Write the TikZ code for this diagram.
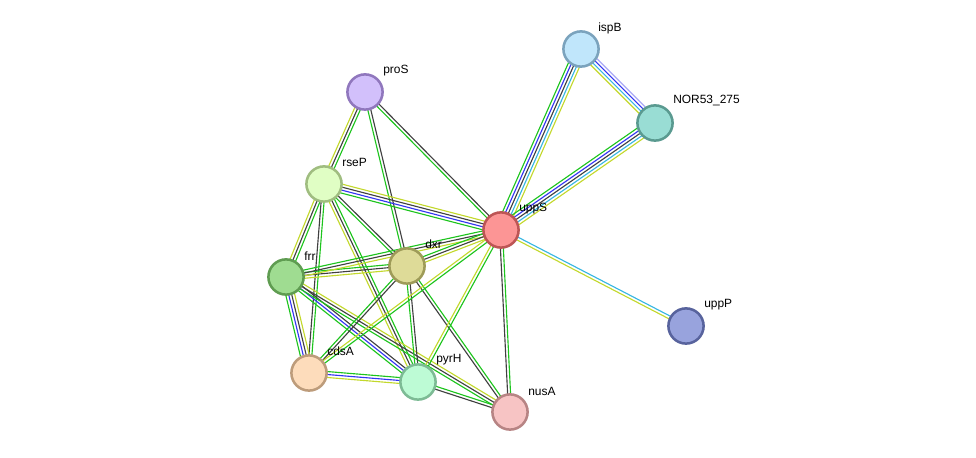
\documentclass[tikz,border=0pt]{standalone}
\usepackage{fontspec}
\setmainfont{Liberation Sans}
\usetikzlibrary{calc,backgrounds}

\definecolor{cNb}{HTML}{1DC41D}
\definecolor{cTm}{HTML}{C3D82C}
\definecolor{cCo}{HTML}{404040}
\definecolor{cCc}{HTML}{3434F2}
\definecolor{cDb}{HTML}{36B6E2}
\definecolor{cEx}{HTML}{AAAAF5}

\tikzset{
  prot/.style={circle, minimum size=0.88cm, line width=1.8pt, inner sep=0pt},
  lbl/.style={anchor=west, font=\fontsize{8.5}{10}\selectfont, inner sep=0pt},
  edge/.style={line width=0.8pt}
}

% parallel coloured lines between two proteins
\newcommand{\linkset}[3]{%
  \foreach \c [count=\i] in {#3} {\xdef\nlines{\i}}
  \foreach \c [count=\i] in {#3} {
    \pgfmathsetmacro{\off}{(\i-(\nlines+1)/2)*2.1}
    \draw[\c, edge] ($(#1)!\off pt!90:(#2)$) -- ($(#2)!\off pt!-90:(#1)$);
  }}

\begin{document}
\begin{tikzpicture}[x=0.025cm, y=-0.025cm]
  \useasboundingbox (0,0) rectangle (976,458);

  \node[prot, fill={rgb,255:red,192;green,230;blue,251}, draw={rgb,255:red,123;green,163;blue,189}] (ispB) at (581,49) {};
  \node[prot, fill={rgb,255:red,153;green,221;blue,212}, draw={rgb,255:red,90;green,154;blue,144}] (nor) at (655,123) {};
  \node[prot, fill={rgb,255:red,210;green,192;blue,251}, draw={rgb,255:red,144;green,119;blue,189}] (proS) at (365,92) {};
  \node[prot, fill={rgb,255:red,224;green,254;blue,196}, draw={rgb,255:red,160;green,189;blue,128}] (rseP) at (324,184) {};
  \node[prot, fill={rgb,255:red,252;green,149;blue,149}, draw={rgb,255:red,189;green,85;blue,85}] (uppS) at (501,230) {};
  \node[prot, fill={rgb,255:red,222;green,219;blue,152}, draw={rgb,255:red,158;green,155;blue,88}] (dxr) at (407,266) {};
  \node[prot, fill={rgb,255:red,159;green,220;blue,145}, draw={rgb,255:red,95;green,156;blue,81}] (frr) at (286,277) {};
  \node[prot, fill={rgb,255:red,152;green,163;blue,221}, draw={rgb,255:red,88;green,99;blue,157}] (uppP) at (686,326) {};
  \node[prot, fill={rgb,255:red,253;green,220;blue,187}, draw={rgb,255:red,189;green,156;blue,123}] (cdsA) at (309,373) {};
  \node[prot, fill={rgb,255:red,189;green,251;blue,213}, draw={rgb,255:red,125;green,187;blue,149}] (pyrH) at (418,382) {};
  \node[prot, fill={rgb,255:red,247;green,196;blue,196}, draw={rgb,255:red,183;green,132;blue,132}] (nusA) at (510,412) {};

  \node[lbl] (ispBtxt) at ($(ispB)+(17,-21)$) {ispB};
  \node[lbl] (nortxt) at ($(nor)+(18,-22)$) {NOR53\_275};
  \node[lbl] (proStxt) at ($(proS)+(18,-21)$) {proS};
  \node[lbl] (rsePtxt) at ($(rseP)+(18,-22)$) {rseP};
  \node[lbl] (uppStxt) at ($(uppS)+(18,-21)$) {uppS};
  \node[lbl] (dxrtxt) at ($(dxr)+(18,-22)$) {dxr};
  \node[lbl] (frrtxt) at ($(frr)+(18,-21)$) {frr};
  \node[lbl] (uppPtxt) at ($(uppP)+(18,-21)$) {uppP};
  \node[lbl] (cdsAtxt) at ($(cdsA)+(18,-22)$) {cdsA};
  \node[lbl] (pyrHtxt) at ($(pyrH)+(18,-22)$) {pyrH};
  \node[lbl] (nusAtxt) at ($(nusA)+(18,-21)$) {nusA};

  \begin{pgfonlayer}{background}
    \linkset{uppS}{ispB}{cTm,cDb,cCo,cCc,cNb}
    \linkset{ispB}{nor}{cTm,cDb,cCc,cEx}
    \linkset{uppS}{nor}{cTm,cDb,cCo,cCc,cNb}
    \linkset{uppS}{uppP}{cTm,cDb}
    \linkset{proS}{rseP}{cTm,cCo,cNb}
    \linkset{proS}{dxr}{cNb,cCo}
    \linkset{proS}{uppS}{cNb,cCo}
    \linkset{rseP}{uppS}{cNb,cCc,cCo,cTm}
    \linkset{rseP}{dxr}{cNb,cCo}
    \linkset{rseP}{frr}{cTm,cCo,cNb}
    \linkset{rseP}{cdsA}{cCo,cNb}
    \linkset{rseP}{pyrH}{cTm,cCo,cNb}
    \linkset{frr}{dxr}{cTm,cCo,cNb}
    \linkset{frr}{uppS}{cTm,cCo,cNb}
    \linkset{frr}{cdsA}{cNb,cCc,cCo,cTm}
    \linkset{frr}{pyrH}{cNb,cCc,cCo}
    \linkset{frr}{nusA}{cNb,cCo,cTm}
    \linkset{dxr}{uppS}{cTm,cCo,cNb}
    \linkset{dxr}{cdsA}{cNb,cCo}
    \linkset{dxr}{pyrH}{cNb,cCo}
    \linkset{dxr}{nusA}{cCo,cNb}
    \linkset{uppS}{cdsA}{cTm,cNb}
    \linkset{uppS}{pyrH}{cTm,cNb}
    \linkset{uppS}{nusA}{cCo,cNb}
    \linkset{cdsA}{pyrH}{cTm,cCc,cNb}
    \linkset{pyrH}{nusA}{cCo,cNb}
  \end{pgfonlayer}
\end{tikzpicture}
\end{document}
